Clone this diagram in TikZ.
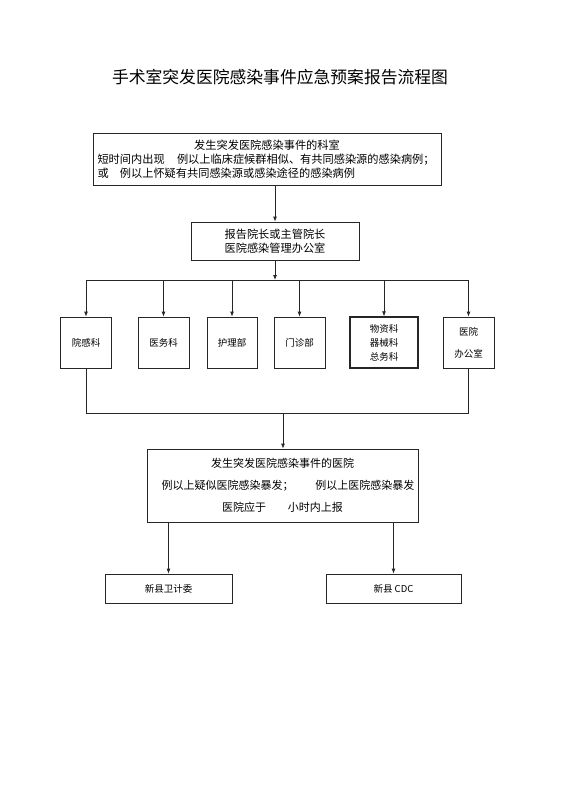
\documentclass[tikz,border=0pt]{standalone}
\usepackage{fontspec}
\setmainfont{Noto Sans CJK SC}
\usetikzlibrary{arrows.meta}
\tikzset{
  box/.style={draw=black!85, line width=0.8pt, inner sep=0pt, align=center},
  thickbox/.style={box, line width=1.4pt},
  arr/.style={draw=black!85, line width=0.8pt, -{Latex[length=5pt,width=4pt]}},
  ln/.style={draw=black!85, line width=0.8pt},
  small/.style={font=\fontsize{9.5}{14}\selectfont},
  mid/.style={font=\fontsize{11.2}{14}\selectfont}
}
\begin{document}
\begin{tikzpicture}[x=1pt,y=-1pt]
\useasboundingbox (0,0) rectangle (560,792);
\node[inner sep=0pt] (title) at (280,77) {\fontsize{16.8}{20}\selectfont 手术室突发医院感染事件应急预案报告流程图};

\node[box, mid, minimum width=348pt, minimum height=52pt, align=left, text width=339pt] (k1) at (267,159)
  {\makebox[339pt][c]{发生突发医院感染事件的科室}\\
   短时间内出现\hspace{1.1em}例以上临床症候群相似、有共同感染源的感染病例；\\
   或\hspace{1em}例以上怀疑有共同感染源或感染途径的感染病例};

\node[box, mid, minimum width=168pt, minimum height=38pt] (k2) at (275,241)
  {报告院长或主管院长\\医院感染管理办公室};

\node[box, small, minimum width=51pt, minimum height=51pt] (d1) at (86,342.5) {院感科};
\node[box, small, minimum width=51pt, minimum height=51pt] (d2) at (163.5,342.5) {医务科};
\node[box, small, minimum width=50pt, minimum height=51pt] (d3) at (232,342.5) {护理部};
\node[box, small, minimum width=51pt, minimum height=51pt] (d4) at (299.5,342.5) {门诊部};
\node[thickbox, small, minimum width=68pt, minimum height=51pt] (d5) at (384,342.5) {物资科\\器械科\\总务科};
\node[box, font=\fontsize{9.5}{22}\selectfont, minimum width=51pt, minimum height=51pt] (d6) at (468.5,342.5) {医院\\办公室};

\node[box, font=\fontsize{11}{22}\selectfont, minimum width=271pt, minimum height=73pt] (k3) at (282.5,485.5)
  {发生突发医院感染事件的医院\\
   \hspace{1em}例以上疑似医院感染暴发；\hspace{2em}例以上医院感染暴发\\
   医院应于\hspace{2em}小时内上报};

\node[box, small, minimum width=127pt, minimum height=29pt] (w1) at (168.5,588.5) {新县卫计委};
\node[box, small, minimum width=135pt, minimum height=29pt] (w2) at (393.5,588.5) {新县 CDC};

\coordinate (busY) at (0,280);
\coordinate (busB) at (283,413);

\draw[arr] (k2.north |- k1.south) -- (k2.north);
\draw[arr] (k2.south) -- (k2.south |- busY);
\draw[ln] (d1.north |- busY) -- (d6.north |- busY);
\foreach \d in {d1,d2,d3,d4,d5,d6}{
  \draw[arr] (\d.north |- busY) -- (\d.north);
}
\draw[ln] (d1.south) -- (d1.south |- busB) -- (d6.south |- busB) -- (d6.south);
\draw[arr] (busB) -- (busB |- k3.north);
\draw[arr] (w1.north |- k3.south) -- (w1.north);
\draw[arr] (w2.north |- k3.south) -- (w2.north);
\end{tikzpicture}
\end{document}
